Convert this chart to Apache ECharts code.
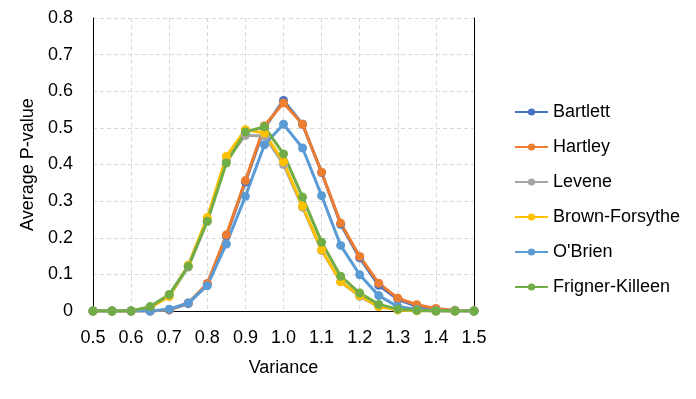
<!DOCTYPE html>
<html>
<head>
<meta charset="utf-8">
<script src="https://cdn.jsdelivr.net/npm/echarts@6/dist/echarts.min.js"></script>
<style>
  html, body { margin: 0; padding: 0; background: #fff; }
  #chart { width: 696px; height: 399px; }
</style>
</head>
<body>
<div id="chart"></div>
<script>
// variance levels (x) and average p-values per test
const variance = [0.5, 0.55, 0.6, 0.65, 0.7, 0.75, 0.8, 0.85, 0.9, 0.95, 1.0,
  1.05, 1.1, 1.15, 1.2, 1.25, 1.3, 1.35, 1.4, 1.45, 1.5];
const bartlett = [0, 0, 0, 0, 0.003, 0.02, 0.073, 0.205, 0.352, 0.5, 0.575,
  0.51, 0.378, 0.237, 0.145, 0.07, 0.032, 0.013, 0.004, 0.001, 0];
const hartley = [0, 0, 0, 0, 0.003, 0.022, 0.075, 0.208, 0.356, 0.506, 0.568,
  0.51, 0.379, 0.24, 0.149, 0.076, 0.035, 0.017, 0.007, 0.002, 0];
const levene = [0, 0, 0, 0.01, 0.04, 0.12, 0.245, 0.41, 0.48, 0.478, 0.4,
  0.283, 0.165, 0.08, 0.04, 0.012, 0.003, 0.001, 0, 0, 0];
const brownForsythe = [0, 0, 0, 0.01, 0.04, 0.125, 0.255, 0.422, 0.495, 0.486, 0.407,
  0.286, 0.167, 0.08, 0.042, 0.012, 0.003, 0.001, 0, 0, 0];
const oBrien = [0, 0, 0, 0, 0.005, 0.022, 0.069, 0.183, 0.313, 0.454, 0.51,
  0.445, 0.315, 0.179, 0.099, 0.042, 0.012, 0.004, 0.001, 0, 0];
const frignerKilleen = [0, 0, 0, 0.012, 0.045, 0.122, 0.245, 0.404, 0.489, 0.503, 0.429,
  0.311, 0.188, 0.095, 0.049, 0.018, 0.005, 0.002, 0, 0, 0];

const seriesDefs = [
  { name: "Bartlett", color: "#4472C4", data: bartlett },
  { name: "Hartley", color: "#ED7D31", data: hartley },
  { name: "Levene", color: "#A5A5A5", data: levene },
  { name: "Brown-Forsythe", color: "#FFC000", data: brownForsythe },
  { name: "O'Brien", color: "#5B9BD5", data: oBrien },
  { name: "Frigner-Killeen", color: "#70AD47", data: frignerKilleen },
];

const font = "'Liberation Sans', Arial, sans-serif";
const gridLine = { show: true, lineStyle: { color: "#d9d9d9", type: [4, 3] } };
const frameLine = { show: true, lineStyle: { color: "#000", width: 1 } };

const chart = echarts.init(document.getElementById("chart"));

chart.setOption({
  animation: false,
  textStyle: { fontFamily: font },
  grid: { left: 93, right: 222, top: 18, bottom: 88 },
  legend: {
    orient: "vertical",
    left: 509,
    top: 98,
    itemGap: 17,
    itemWidth: 33,
    itemHeight: 9,
    textStyle: { color: "#000", fontSize: 18, fontFamily: font },
    data: seriesDefs.map((s) => s.name),
  },
  xAxis: [
    {
      type: "value",
      min: 0.5,
      max: 1.5,
      interval: 0.1,
      name: "Variance",
      nameLocation: "middle",
      nameGap: 48,
      nameTextStyle: { color: "#000", fontSize: 18 },
      axisLine: frameLine,
      axisTick: { show: false },
      axisLabel: {
        color: "#000", fontSize: 18, margin: 18,
        formatter: (v) => v.toFixed(1),
      },
      splitLine: gridLine,
    },
    {
      // top edge of the plot frame
      type: "value", position: "top", min: 0.5, max: 1.5,
      axisLine: frameLine, axisTick: { show: false },
      axisLabel: { show: false }, splitLine: { show: false },
    },
  ],
  yAxis: [
    {
      type: "value",
      min: 0,
      max: 0.8,
      interval: 0.1,
      name: "Average P-value",
      nameLocation: "middle",
      nameGap: 52,
      nameTextStyle: { color: "#000", fontSize: 18 },
      axisLine: frameLine,
      axisTick: { show: false },
      axisLabel: {
        color: "#000", fontSize: 18, margin: 20,
        formatter: (v) => (v === 0 ? "0" : v.toFixed(1)),
      },
      splitLine: gridLine,
    },
    {
      // right edge of the plot frame
      type: "value", position: "right", min: 0, max: 0.8,
      axisLine: frameLine, axisTick: { show: false },
      axisLabel: { show: false }, splitLine: { show: false },
    },
  ],
  series: seriesDefs.map((s) => ({
    name: s.name,
    type: "line",
    data: variance.map((x, i) => [x, s.data[i]]),
    symbol: "circle",
    symbolSize: 9,
    color: s.color,
    lineStyle: { width: 3, color: s.color },
    itemStyle: { color: s.color },
  })),
});
</script>
</body>
</html>
